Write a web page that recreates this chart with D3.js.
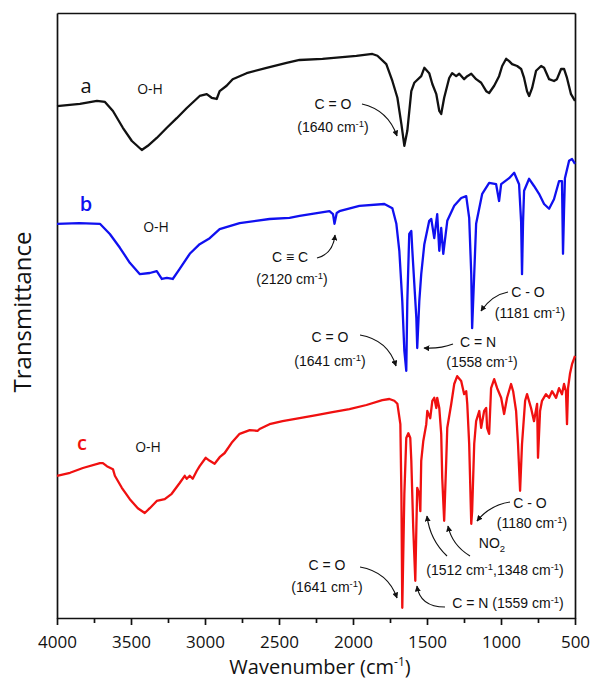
<!DOCTYPE html>
<html>
<head>
<meta charset="utf-8">
<script src="https://cdn.jsdelivr.net/npm/d3@7/dist/d3.min.js"></script>
<style>
    body { margin: 0; background: #fff; }
    .axis text { font-family: "Open Sans", sans-serif; font-size: 17px; fill: #111; }
    .axis path, .axis line { stroke: #111; stroke-width: 1.7px; }
    .note { font-family: "Liberation Sans", Arial, sans-serif; font-size: 14px; fill: #111; }
    .oh { font-family: "Open Sans", sans-serif; font-size: 14px; fill: #111; }
</style>
</head>
<body>
<svg id="chart"></svg>
<script>
// FTIR spectra: [wavenumber (cm-1), transmittance (a.u., curves offset)]
const specA = [
    [4000,85.3],[3845,85.7],[3730,86.2],[3676,86],[3622,84.5],[3555,81.7],[3494,79.5],[3427,78],
    [3386,78.7],[3326,80],[3258,81.7],[3191,83.3],[3123,85],[3036,87],[2988,87.3],[2955,86.7],
    [2921,86.5],[2901,87.8],[2854,88.7],[2813,89.8],[2719,90.8],[2584,91.7],[2449,92.5],[2361,93],
    [2206,93.2],[1977,93.7],[1869,94],[1835,93.7],[1775,92.3],[1734,89.5],[1700,86.7],[1673,82.3],
    [1653,78.7],[1633,81.2],[1606,87.8],[1586,89.2],[1539,90.3],[1518,91.7],[1485,90.8],[1464,89],
    [1437,87.3],[1417,84.5],[1404,84],[1384,86.7],[1350,90],[1330,90.8],[1303,90.3],[1282,90.7],
    [1249,89.8],[1228,90.3],[1201,90.7],[1168,89.8],[1134,89.2],[1100,87.8],[1080,87.5],[1046,88.7],
    [1013,90.3],[992,92],[965,93.2],[945,92.8],[925,92.3],[891,92],[864,91.5],[844,90],[824,87.8],
    [810,87],[790,88.3],[763,91.2],[729,92],[709,91.7],[675,89.8],[642,89.5],[622,89.8],[594,91.5],
    [574,91.5],[554,90],[527,87.3],[500,86.2]
];

const specB = [
    [4000,65.7],[3850,65.8],[3710,65.7],[3643,64],[3575,61.7],[3508,59.2],[3440,57.3],[3373,57.5],
    [3326,57.8],[3292,56.5],[3258,56.7],[3218,56.5],[3171,58.2],[3103,60.7],[3036,62.3],[2968,63.3],
    [2901,64.8],[2766,65.8],[2564,66.5],[2429,66.7],[2361,67],[2159,67.8],[2135,67.3],[2125,65.7],
    [2110,67.5],[2092,67.8],[1957,68.7],[1788,69],[1734,68.3],[1707,65.7],[1687,61.2],[1667,52.8],
    [1653,44.5],[1640,41.2],[1633,52.8],[1620,64],[1606,64.5],[1599,61.2],[1572,50],[1566,45],
    [1552,52.8],[1539,57.3],[1518,62.3],[1485,66.2],[1471,66.5],[1451,63.3],[1431,67.3],[1417,61.2],
    [1404,65],[1390,60.7],[1363,66.2],[1316,68.7],[1269,70],[1235,70.3],[1215,66.7],[1201,57.3],
    [1195,48.3],[1181,57.3],[1168,65.7],[1127,70.7],[1080,72.5],[1033,72.3],[1013,69.5],[999,72.3],
    [945,73.3],[911,74.2],[878,72.3],[864,66],[858,57.3],[851,66],[844,71.2],[810,73.2],[777,72],
    [743,70.7],[709,69],[675,68.2],[642,69.8],[608,72.8],[588,72.8],[581,60.7],[574,68],[568,73.3],
    [540,76.2],[520,76.5],[500,75.7]
];

const specC = [
    [4000,23.7],[3912,24.2],[3825,25],[3710,25.8],[3690,25.8],[3663,25.3],[3622,24.8],[3609,23.7],
    [3562,21.7],[3508,19.8],[3454,18.3],[3407,17.5],[3373,18.3],[3326,19.5],[3272,19.8],[3225,20.7],
    [3171,22.5],[3137,23.7],[3123,23.2],[3103,23.7],[3083,23.2],[3056,24.5],[3036,25.3],[2995,26.7],
    [2968,26.2],[2935,25.7],[2901,26.8],[2867,27.5],[2820,29.2],[2766,30.7],[2698,31.3],[2645,31.2],
    [2631,31.5],[2564,32.3],[2476,32.8],[2361,33.3],[2247,33.8],[2139,34.3],[2024,34.8],[1909,35.5],
    [1802,36.3],[1754,36.5],[1721,36.2],[1700,35.7],[1680,32.3],[1673,20.7],[1667,1.7],[1653,20.7],
    [1640,30],[1626,30.8],[1613,30],[1606,26.2],[1593,15],[1579,6.2],[1572,15],[1566,21.7],
    [1552,20.7],[1545,17.8],[1539,26.2],[1525,29.5],[1505,32.3],[1498,34.5],[1478,33.3],[1464,36.2],
    [1451,36.7],[1437,35],[1431,36.7],[1417,35],[1404,30.7],[1397,23.3],[1384,16.2],[1370,26.2],
    [1363,31.7],[1336,35.7],[1316,39],[1296,40.3],[1269,39.5],[1249,37.3],[1235,37.8],[1228,35.7],
    [1215,29],[1201,15.7],[1195,17.8],[1181,29],[1168,32.8],[1147,34.5],[1134,31.7],[1114,34.5],
    [1100,35],[1094,31.7],[1080,30.7],[1067,38.3],[1046,39.8],[1026,38.3],[999,36.7],[979,34],
    [959,36.7],[932,39],[918,37.8],[898,34.5],[885,29],[871,21.2],[858,29],[837,36.2],[824,37.3],
    [797,35],[777,32.8],[756,35.7],[750,26.7],[736,34.5],[723,36.2],[696,37.3],[675,36.7],[655,37.8],
    [628,36.7],[608,38.3],[588,37.3],[574,39],[561,37.8],[554,32.3],[547,38.3],[534,40.7],[520,42.3],
    [507,43.2],[500,43.7]
];

const seriesNames = ['a', 'b', 'c'];
const seriesColors = ['#111111', '#1010f0', '#f01010'];

const majorTicks = [4000, 3500, 3000, 2500, 2000, 1500, 1000, 500];
const minorTicks = [3750, 3250, 2750, 2250, 1750, 1250, 750];

// peak notes: text lines (^{} = superscript, _{} = subscript)
const peakNotes = [
    {lines: ['C = O', '(1640 cm^{-1})']},
    {lines: ['C \u2261 C', '(2120 cm^{-1})']},
    {lines: ['C = O', '(1641 cm^{-1})']},
    {lines: ['C = N', '(1558 cm^{-1})']},
    {lines: ['C - O', '(1181 cm^{-1})']},
    {lines: ['C - O', '(1180 cm^{-1})']},
    {lines: ['NO_{2}', '(1512 cm^{-1},1348 cm^{-1})']},
    {lines: ['C = N  (1559 cm^{-1})']},
    {lines: ['C = O', '(1641 cm^{-1})']}
];

class FtirChart {
    constructor(_config, _series) {
        this.config = {
            parentElement: _config.parentElement,
            containerWidth: _config.containerWidth || 590,
            containerHeight: _config.containerHeight || 682,
            margin: _config.margin || {top: 13, right: 15, bottom: 64, left: 57}
        }
        this.series = _series;
        this.initVis();
    }

    initVis() {
        let vis = this;
        let m = vis.config.margin;

        vis.width = vis.config.containerWidth - m.left - m.right;
        vis.height = vis.config.containerHeight - m.top - m.bottom;

        // wavenumber runs high to low
        vis.xScale = d3.scaleLinear()
            .domain([4000, 500])
            .range([0, vis.width]);
        vis.yScale = d3.scaleLinear()
            .domain([0, 100.83])
            .range([vis.height, 0]);

        vis.svg = d3.select(vis.config.parentElement)
            .attr('width', vis.config.containerWidth)
            .attr('height', vis.config.containerHeight);

        vis.defs = vis.svg.append('defs');
        vis.defs.append('marker')
            .attr('id', 'head')
            .attr('viewBox', '0 0 10 10')
            .attr('refX', 9).attr('refY', 5)
            .attr('markerWidth', 6).attr('markerHeight', 6)
            .attr('markerUnits', 'userSpaceOnUse')
            .attr('orient', 'auto')
            .append('path')
            .attr('d', 'M0,0 L10,5 L0,10 z')
            .attr('fill', '#111');

        vis.chart = vis.svg.append('g')
            .attr('transform', `translate(${m.left},${m.top})`);

        // minor ticks first, major on top
        vis.chart.append('g')
            .attr('class', 'axis')
            .attr('transform', `translate(0,${vis.height})`)
            .call(d3.axisBottom(vis.xScale).tickValues(minorTicks).tickSize(5).tickFormat(''))
            .select('.domain').remove();

        vis.xAxisG = vis.chart.append('g')
            .attr('class', 'axis x-axis')
            .attr('transform', `translate(0,${vis.height})`)
            .call(d3.axisBottom(vis.xScale).tickValues(majorTicks).tickSize(7).tickSizeOuter(0).tickPadding(11)
                .tickFormat(d3.format('d')));

        // box around plot
        vis.chart.append('g').attr('class', 'axis')
            .call(d3.axisLeft(vis.yScale).tickValues([]).tickSizeOuter(0));
        vis.chart.append('g').attr('class', 'axis')
            .call(d3.axisTop(vis.xScale).tickValues([]).tickSizeOuter(0));
        vis.chart.append('g').attr('class', 'axis')
            .attr('transform', `translate(${vis.width},0)`)
            .call(d3.axisRight(vis.yScale).tickValues([]).tickSizeOuter(0));

        // axis titles
        let xt = vis.svg.append('text')
            .attr('x', m.left + vis.width / 2 + 4)
            .attr('y', 674)
            .attr('text-anchor', 'middle')
            .attr('font-family', '"Open Sans", sans-serif')
            .attr('font-size', 20)
            .attr('fill', '#111');
        xt.append('tspan').text('Wavenumber (cm');
        xt.append('tspan').attr('dy', -8).attr('font-size', 12).text('-1');
        xt.append('tspan').attr('dy', 8).text(')');

        vis.svg.append('text')
            .attr('transform', `translate(31,312) rotate(-90)`)
            .attr('text-anchor', 'middle')
            .attr('font-family', '"Open Sans", sans-serif')
            .attr('font-size', 24)
            .attr('fill', '#111')
            .text('Transmittance');

        vis.line = d3.line()
            .x(d => vis.xScale(d[0]))
            .y(d => vis.yScale(d[1]));

        vis.updateVis();
    }

    updateVis() {
        let vis = this;

        vis.chart.selectAll('.spectrum')
            .data(vis.series)
            .join('path')
            .attr('class', 'spectrum')
            .attr('d', d => vis.line(d))
            .attr('fill', 'none')
            .attr('stroke', (d, i) => seriesColors[i])
            .attr('stroke-width', 2.3)
            .attr('stroke-linejoin', 'round');

        // curve letters and O-H labels (svg coords)
        const letterPos = [[86, 86], [86, 204], [82, 443]];
        const ohPos = [[150, 89], [156, 227], [148, 447]];
        seriesNames.forEach((name, i) => {
            vis.svg.append('text')
                .attr('x', letterPos[i][0]).attr('y', letterPos[i][1] + 7)
                .attr('text-anchor', 'middle')
                .attr('font-family', '"Open Sans", sans-serif')
                .attr('font-size', 20)
                .attr('font-weight', i == 0 ? 400 : 600)
                .attr('fill', seriesColors[i])
                .text(name);
            vis.svg.append('text')
                .attr('class', 'oh')
                .attr('x', ohPos[i][0]).attr('y', ohPos[i][1] + 5)
                .attr('text-anchor', 'middle')
                .text('O-H');
        });

        // note layout: line centres and arrow(s) [x0,y0,cx,cy,x1,y1]
        const noteLayout = [
            {pos: [[333, 104], [333, 127]], arrows: [[362, 104, 388, 110, 397, 136]]},
            {pos: [[290, 257], [292, 279]], arrows: [[317, 258, 333, 254, 335, 235]]},
            {pos: [[330, 337], [330, 361]], arrows: [[360, 335, 388, 340, 396, 366]]},
            {pos: [[478, 342], [482, 362]], arrows: [[453, 344, 440, 349, 424, 348]]},
            {pos: [[528, 292], [530, 313]], arrows: [[508, 292, 492, 295, 481, 311]]},
            {pos: [[530, 503], [532, 523]], arrows: [[510, 502, 490, 505, 477, 521]]},
            {pos: [[492, 543], [495, 570]], arrows: [[447, 556, 430, 540, 427, 516], [470, 556, 452, 545, 448, 526]]},
            {pos: [[508, 603]], arrows: [[445, 607, 420, 607, 417, 586]]},
            {pos: [[327, 565], [327, 587]], arrows: [[360, 567, 388, 572, 397, 598]]}
        ];

        peakNotes.forEach((note, k) => {
            let lay = noteLayout[k];
            note.lines.forEach((ln, j) => {
                vis.richText(lay.pos[j][0], lay.pos[j][1] + 5, ln);
            });
            lay.arrows.forEach(a => {
                vis.svg.append('path')
                    .attr('d', `M${a[0]},${a[1]} Q${a[2]},${a[3]} ${a[4]},${a[5]}`)
                    .attr('fill', 'none')
                    .attr('stroke', '#111')
                    .attr('stroke-width', 1.2)
                    .attr('marker-end', 'url(#head)');
            });
        });
    }

    richText(x, y, str) {
        let vis = this;
        let t = vis.svg.append('text')
            .attr('class', 'note')
            .attr('x', x).attr('y', y)
            .attr('text-anchor', 'middle');
        let parts = str.split(/(\^\{[^}]*\}|_\{[^}]*\})/).filter(s => s.length);
        let shift = 0;
        parts.forEach(p => {
            let target = 0, txt = p;
            if (p.startsWith('^{')) { target = -5; txt = p.slice(2, -1); }
            else if (p.startsWith('_{')) { target = 4; txt = p.slice(2, -1); }
            let ts = t.append('tspan').attr('dy', target - shift).text(txt);
            if (target != 0) ts.attr('font-size', 9.5);
            shift = target;
        });
    }
}

new FtirChart({parentElement: '#chart'}, [specA, specB, specC]);
</script>
</body>
</html>
